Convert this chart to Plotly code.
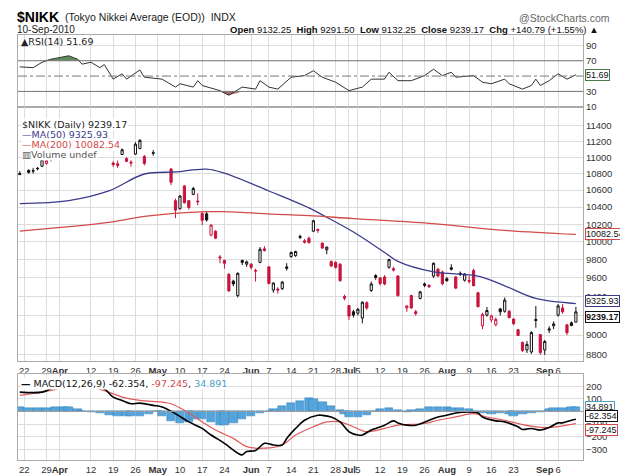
import plotly.graph_objects as go
import math

# trading-slot index (business days since 2010-03-22)
day_idx = [-1,1,2,3,4,5,6,7,8,9,10,11,12,13,14,15,16,17,18,19,20,21,22,23,24,25,26,27,29,
           33,34,35,36,37,38,39,40,41,42,43,44,45,46,47,48,49,50,51,52,53,54,55,56,57,58,59,
           60,61,62,63,64,65,66,67,68,69,70,71,72,73,74,75,76,77,78,79,80,81,82,83,84,
           86,87,88,89,90,91,92,93,94,95,96,97,98,99,100,101,102,103,104,105,106,107,108,109,
           110,111,112,113,114,115,116,117,118,119,120,121,122,123,124]
opens = [10800,10840,10830,10865,10890,10925,10990,11000,11110,11250,11300,11320,11290,11260,11180,11210,11170,11230,11300,11230,10930,10920,11035,10985,10940,11040,11110,11010,11050,
         10855,10475,10380,10650,10475,10550,10470,10325,10320,10075,10120,9830,9790,9640,9565,9410,9790,9750,9750,9680,9770,9920,9720,9470,9480,9485,9720,
         9835,9845,10060,10010,10040,10120,10140,9985,9910,9780,9770,9750,9400,9305,9240,9225,9175,9335,9465,9625,9600,9610,9715,9700,9620,
         9280,9410,9240,9380,9535,9520,9620,9695,9665,9590,9710,9610,9650,9575,9560,9680,9440,9095,9205,9155,9105,9270,9245,9245,
         9165,9055,8925,8850,8830,9160,9005,8850,9050,9095,9205,9280,9105,9125,9132.25]
highs = [10830,10850,10870,10880,10990,10975,11010,11120,11250,11300,11360,11340,11310,11280,11220,11250,11200,11270,11320,11240,10950,10960,11110,11000,10965,11190,11230,11030,11090,
         10870,10500,10540,10660,10480,10640,10560,10340,10340,10200,10130,9850,9800,9650,9580,9660,9800,9790,9760,9700,9940,9950,9730,9550,9500,9565,9760,
         9890,9900,10080,10030,10060,10250,10150,9990,9945,9790,9780,9760,9420,9310,9260,9280,9350,9350,9560,9640,9610,9630,9810,9720,9630,
         9310,9420,9260,9460,9550,9530,9770,9710,9680,9610,9750,9620,9670,9650,9620,9700,9450,9230,9290,9210,9180,9280,9390,9260,
         9170,9060,8935,8940,9040,9300,9010,8950,9090,9140,9320,9320,9110,9140,9291.5]
lows = [10780,10800,10800,10840,10880,10910,10950,10990,11100,11230,11280,11260,11250,11150,11160,11170,11130,11220,11270,11090,10880,10870,11030,10940,10885,11030,11100,10900,11020,
        10660,10270,10370,10440,10370,10540,10420,10190,10230,10060,10030,9760,9700,9450,9510,9390,9740,9720,9690,9560,9760,9890,9530,9440,9430,9470,9680,
        9820,9830,10030,9980,9980,10110,10100,9920,9860,9720,9700,9560,9360,9155,9180,9200,9120,9260,9450,9580,9520,9520,9700,9670,9400,
        9240,9270,9200,9370,9500,9490,9600,9610,9520,9560,9680,9480,9620,9560,9540,9510,9290,9060,9190,9130,9090,9200,9230,9170,
        9100,8990,8830,8820,8810,9075,8800,8800,9020,9060,9190,9220,9000,9090,9132.25]
closes = [10790,10815,10835,10860,10970,10960,10986,11089,11244,11286,11339,11282,11292,11168,11204,11181,11161,11255,11280,11100,10910,10900,11095,10950,10930,11165,11212,10925,11057,
          10695,10364,10530,10450,10395,10620,10462,10245,10250,10190,10040,9820,9760,9460,9535,9650,9770,9775,9715,9675,9915,9901,9540,9545,9470,9555,9705,
          9880,9890,10050,9995,9990,10240,10130,9930,9940,9730,9715,9570,9382,9195,9205,9266,9340,9280,9535,9605,9540,9535,9800,9685,9410,
          9300,9280,9220,9450,9520,9505,9760,9620,9537,9570,9695,9490,9640,9642,9572,9515,9292,9212,9253,9196,9161,9240,9362,9179,
          9116,8995,8845,8906,9025,9150,8824,8935,9063,9114,9301,9239,9024,9098,9239.17]

ma50_idx = [-1,10,19,27,34,41,45,55,64,68,74,81,84,92,102,108,115,124]
ma50_val = [10440,10475,10590,10795,10820,10855,10805,10590,10390,10280,10110,9880,9780,9665,9620,9515,9380,9325.93]
ma200_idx = [-1,19,27,41,45,59,64,74,91,108,124]
ma200_val = [10120,10220,10290,10345,10345,10310,10300,10265,10210,10130,10082.54]

rsi_idx = [-1,2,4,6,10,12,13,15,17,18,20,22,23,26,27,31,34,35,38,39,40,44,46,49,52,53,55,57,60,63,65,67,70,73,76,78,81,82,84,
           87,90,92,94,96,97,101,103,105,108,109,112,114,115,116,118,120,122,124]
rsi_val = [62,61,68,72,76.5,72,65.6,68,61,65,46,53,46,58,48.5,46,35.6,40,35.6,44,37.7,31,25,35.6,33,44,35.6,33,48.5,50.6,57,48.5,42,31,35.6,46,46,55,44,
           44,50.6,59,50.6,55,48.5,50.6,42,40,46,40,33,37.7,46,37.7,44,53,46,51.69]

macd_idx = [-1,4,6,8,14,18,20,22,24,26,29,31,34,37,40,42,45,48,49,50,52,54,56,58,59,61,63,66,67,69,71,73,75,76,78,81,83,84,86,88,91,93,95,97,
            100,102,103,106,108,111,112,114,116,118,120,121,123,124]
macd_val = [153,153,179,205,218,179,113,87,61,66,48,35,-18,-83,-135,-187,-253,-331,-345,-318,-310,-253,-266,-266,-214,-135,-70,-31,-31,-44,-83,-161,-187,-187,-148,-109,-75,-91,-109,-109,-70,-44,-31,-13,
            -5,-13,-44,-75,-83,-122,-143,-135,-148,-127,-91,-91,-70,-62.354]
sig_idx = [-1,6,10,14,19,22,26,31,33,36,40,43,47,50,54,58,61,65,68,71,74,77,81,84,90,93,97,101,104,108,111,115,118,124]
sig_val = [127,166,205,205,153,114,87,74,61,9,-83,-148,-214,-279,-292,-266,-187,-122,-83,-83,-122,-161,-135,-109,-96,-70,-44,-18,-44,-70,-96,-122,-127,-97.245]
hist_idx = [-1,1,3,5,7,9,10,12,13,15,17,19,21,23,24,26,28,30,31,33,35,37,38,40,42,44,45,47,49,51,53,55,56,58,60,62,64,65,67,69,71,72,73,75,77,79,80,
            82,84,86,87,89,91,93,95,96,98,100,101,103,105,107,109,110,112,114,116,118,119,121,123,124]
hist_val = [35,30,28,30,32,38,38,15,5,-5,-15,-30,-38,-40,-38,-35,-20,0,-40,-80,-90,-85,-60,-60,-85,-105,-108,-90,-60,-35,-10,5,20,40,65,85,102,95,70,40,10,-25,-45,-45,-30,0,20,
            25,10,-5,10,20,35,35,32,30,28,20,-10,-15,-20,-15,-25,-35,-25,-15,-5,20,30,28,35,34.891]

tick_pos = [0,5,8,15,20,25,30,35,40,45,51,55,60,65,70,73,75,80,85,90,95,100,105,110,117,120]
tick_txt = ["22","29","<b>Apr</b>","12","19","26","<b>May</b>","10","17","24","<b>Jun</b>","7","14","21","28","<b>Jul</b>","5","12",
            "19","26","<b>Aug</b>","9","16","23","<b>Sep</b>","6"]
price_ticks = [8800,9000,9200,9400,9600,9800,10000,10200,10400,10600,10800,11000,11200,11400]

W, H = 628, 476
def py(p):  # pixel y -> paper
    return 1 - p / H

RED = "#c8143c"
up_i = [0] + [i for i in range(1, len(closes)) if closes[i] >= closes[i-1]]
dn_i = [i for i in range(1, len(closes)) if closes[i] < closes[i-1]]

fig = go.Figure()
for sel, col in [(up_i, "#111111"), (dn_i, RED)]:
    fig.add_trace(go.Candlestick(
        x=[day_idx[i] for i in sel], open=[opens[i] for i in sel], high=[highs[i] for i in sel],
        low=[lows[i] for i in sel], close=[closes[i] for i in sel],
        increasing=dict(line=dict(color=col, width=1), fillcolor="white"),
        decreasing=dict(line=dict(color=col, width=1), fillcolor=col),
        whiskerwidth=0, xaxis="x2", yaxis="y2", showlegend=False, hoverinfo="skip"))
fig.add_trace(go.Scatter(x=ma50_idx, y=ma50_val, mode="lines", line=dict(color="#3c3c8c", width=1.3, shape="spline"),
                         xaxis="x2", yaxis="y2", showlegend=False))
fig.add_trace(go.Scatter(x=ma200_idx, y=ma200_val, mode="lines", line=dict(color="#d24a4a", width=1.3, shape="spline"),
                         xaxis="x2", yaxis="y2", showlegend=False))

# RSI
fig.add_trace(go.Scatter(x=rsi_idx, y=[70]*len(rsi_idx), mode="lines", line=dict(width=0), showlegend=False, xaxis="x", yaxis="y"))
fig.add_trace(go.Scatter(x=rsi_idx, y=[max(v, 70) for v in rsi_val], mode="lines", line=dict(width=0), fill="tonexty",
                         fillcolor="#5e8e5e", showlegend=False, xaxis="x", yaxis="y"))
fig.add_trace(go.Scatter(x=rsi_idx, y=[30]*len(rsi_idx), mode="lines", line=dict(width=0), showlegend=False, xaxis="x", yaxis="y"))
fig.add_trace(go.Scatter(x=rsi_idx, y=[min(v, 30) for v in rsi_val], mode="lines", line=dict(width=0), fill="tonexty",
                         fillcolor="#a86a6a", showlegend=False, xaxis="x", yaxis="y"))
fig.add_trace(go.Scatter(x=rsi_idx, y=rsi_val, mode="lines", line=dict(color="#333", width=1), showlegend=False, xaxis="x", yaxis="y"))

# MACD
fig.add_trace(go.Bar(x=hist_idx, y=hist_val, width=1.9, marker=dict(color="#55a5dc", line=dict(color="#2e7cb8", width=0.5)),
                     showlegend=False, xaxis="x3", yaxis="y3"))
fig.add_trace(go.Scatter(x=sig_idx, y=sig_val, mode="lines", line=dict(color="#e05a5a", width=1.2, shape="spline"),
                         showlegend=False, xaxis="x3", yaxis="y3"))
fig.add_trace(go.Scatter(x=macd_idx, y=macd_val, mode="lines", line=dict(color="#000", width=1.6, shape="spline"),
                         showlegend=False, xaxis="x3", yaxis="y3"))

xdom = [10 / W, 575 / W]
xr = [-1.4, 125.6]
gcol = "#dddddd"
font = dict(family="Liberation Sans, Arial", size=10, color="#222")
common_x = dict(range=xr, domain=xdom, tickvals=tick_pos, ticktext=tick_txt, showgrid=True, gridcolor=gcol, tickangle=0,
                showline=True, mirror=True, linecolor="#aaa", zeroline=False, ticks="", tickfont=dict(size=9.5, color="#333"))
yfont = dict(size=9.5, color="#333")
fig.update_layout(
    width=W, height=H, margin=dict(l=0, r=0, t=0, b=0), paper_bgcolor="white", plot_bgcolor="white",
    font=font, bargap=0, barmode="overlay",
    xaxis=dict(common_x, anchor="y", showticklabels=False),
    xaxis2=dict(common_x, anchor="y2", matches="x", rangeslider=dict(visible=False)),
    xaxis3=dict(common_x, anchor="y3", matches="x"),
    yaxis=dict(domain=[py(100), py(27)], range=[9.7, 104], side="right", tickvals=[10, 30, 70, 90], tickfont=yfont,
               showgrid=True, gridcolor=gcol, showline=True, mirror=True, linecolor="#aaa", zeroline=False, anchor="x"),
    yaxis2=dict(domain=[py(357), py(100)], type="log", range=[3.9414, 4.0661], side="right", tickfont=yfont,
                tickvals=price_ticks, ticktext=[str(v) for v in price_ticks], showgrid=True, gridcolor=gcol, showline=True, mirror=True,
                linecolor="#aaa", anchor="x2"),
    yaxis3=dict(domain=[py(457), py(370)], range=[-387, 296], side="right", tickvals=[-300, -200, -100, 0, 100, 200],
                tickfont=yfont, showgrid=True, gridcolor=gcol, showline=True, mirror=True, linecolor="#aaa", zeroline=False, anchor="x3"),
)
for v, dash, c in [(70, "solid", "#777"), (30, "solid", "#777"), (50, "dashdot", "#777")]:
    fig.add_shape(type="line", xref="x", yref="y", x0=xr[0], x1=xr[1], y0=v, y1=v, line=dict(color=c, width=1, dash=dash))
fig.add_shape(type="line", xref="x3", yref="y3", x0=xr[0], x1=xr[1], y0=0, y1=0, line=dict(color="#999", width=1))

def txt(x, y, s, size=10, color="#222", anchor="left", family="Liberation Sans, Arial", bg=None):
    fig.add_annotation(xref="paper", yref="paper", x=x / W, y=py(y), text=s, showarrow=False, xanchor=anchor,
                       yanchor="middle", font=dict(size=size, color=color, family=family),
                       bgcolor=bg, borderpad=0)

txt(8, 9, "<b>$NIKK</b>", 14, "#000")
txt(56, 9, "(Tokyo Nikkei Average (EOD))  INDX", 10.5, "#222")
txt(603, 10, "@StockCharts.com", 10.5, "#666", anchor="right")
txt(8, 22, "10-Sep-2010", 10, "#222")
txt(592, 22, "<b>Open</b> 9132.25  <b>High</b> 9291.50  <b>Low</b> 9132.25  <b>Close</b> 9239.17  <b>Chg</b> +140.79 (+1.55%) ▲",
    9.5, "#111", anchor="right")
mono = "DejaVu Sans"
txt(12, 34, "▲RSI(14) 51.69", 9.5, "#222", family=mono)
txt(13, 118, "$NIKK (Daily) 9239.17", 9.5, "#222", family=mono, bg="white")
txt(13, 128, "<span style='color:#3c3c8c'>—MA(50) 9325.93</span>", 9.5, family=mono, bg="white")
txt(13, 138, "<span style='color:#d24a4a'>—MA(200) 10082.54</span>", 9.5, family=mono, bg="white")
txt(13, 148, "<span style='color:#555'>▥Volume undef</span>", 9.5, family=mono, bg="white")
txt(12, 379, "<b>—</b> MACD(12,26,9) -62.354, <span style='color:#d24a4a'>-97.245</span>, <span style='color:#4aa0c0'>34.891</span>",
    9.5, "#111", family=mono, bg="white")

def tag(yref, yval, s, color, yshift=0, bold=False):
    fig.add_annotation(xref="paper", yref=yref, x=577 / W, y=yval, text=("<b>%s</b>" % s) if bold else s,
                       showarrow=False, xanchor="left", yanchor="middle", yshift=yshift,
                       font=dict(size=9, color="#111"), bgcolor="white", bordercolor=color, borderwidth=1, borderpad=0)

tag("y", 51.69, "51.69", "#4a7a4a")
tag("y2", math.log10(10082.54), "10082.54", "#d24a4a")
tag("y2", math.log10(9325.93), "9325.93", "#3c3c8c", yshift=3)
tag("y2", math.log10(9239.17), "9239.17", "#111", yshift=-5, bold=True)
tag("y3", 34.891, "34.891", "#4aa0c0")
tag("y3", -62.354, "-62.354", "#111", yshift=3)
tag("y3", -97.245, "-97.245", "#d24a4a", yshift=-6)

fig.write_html("out.html")
